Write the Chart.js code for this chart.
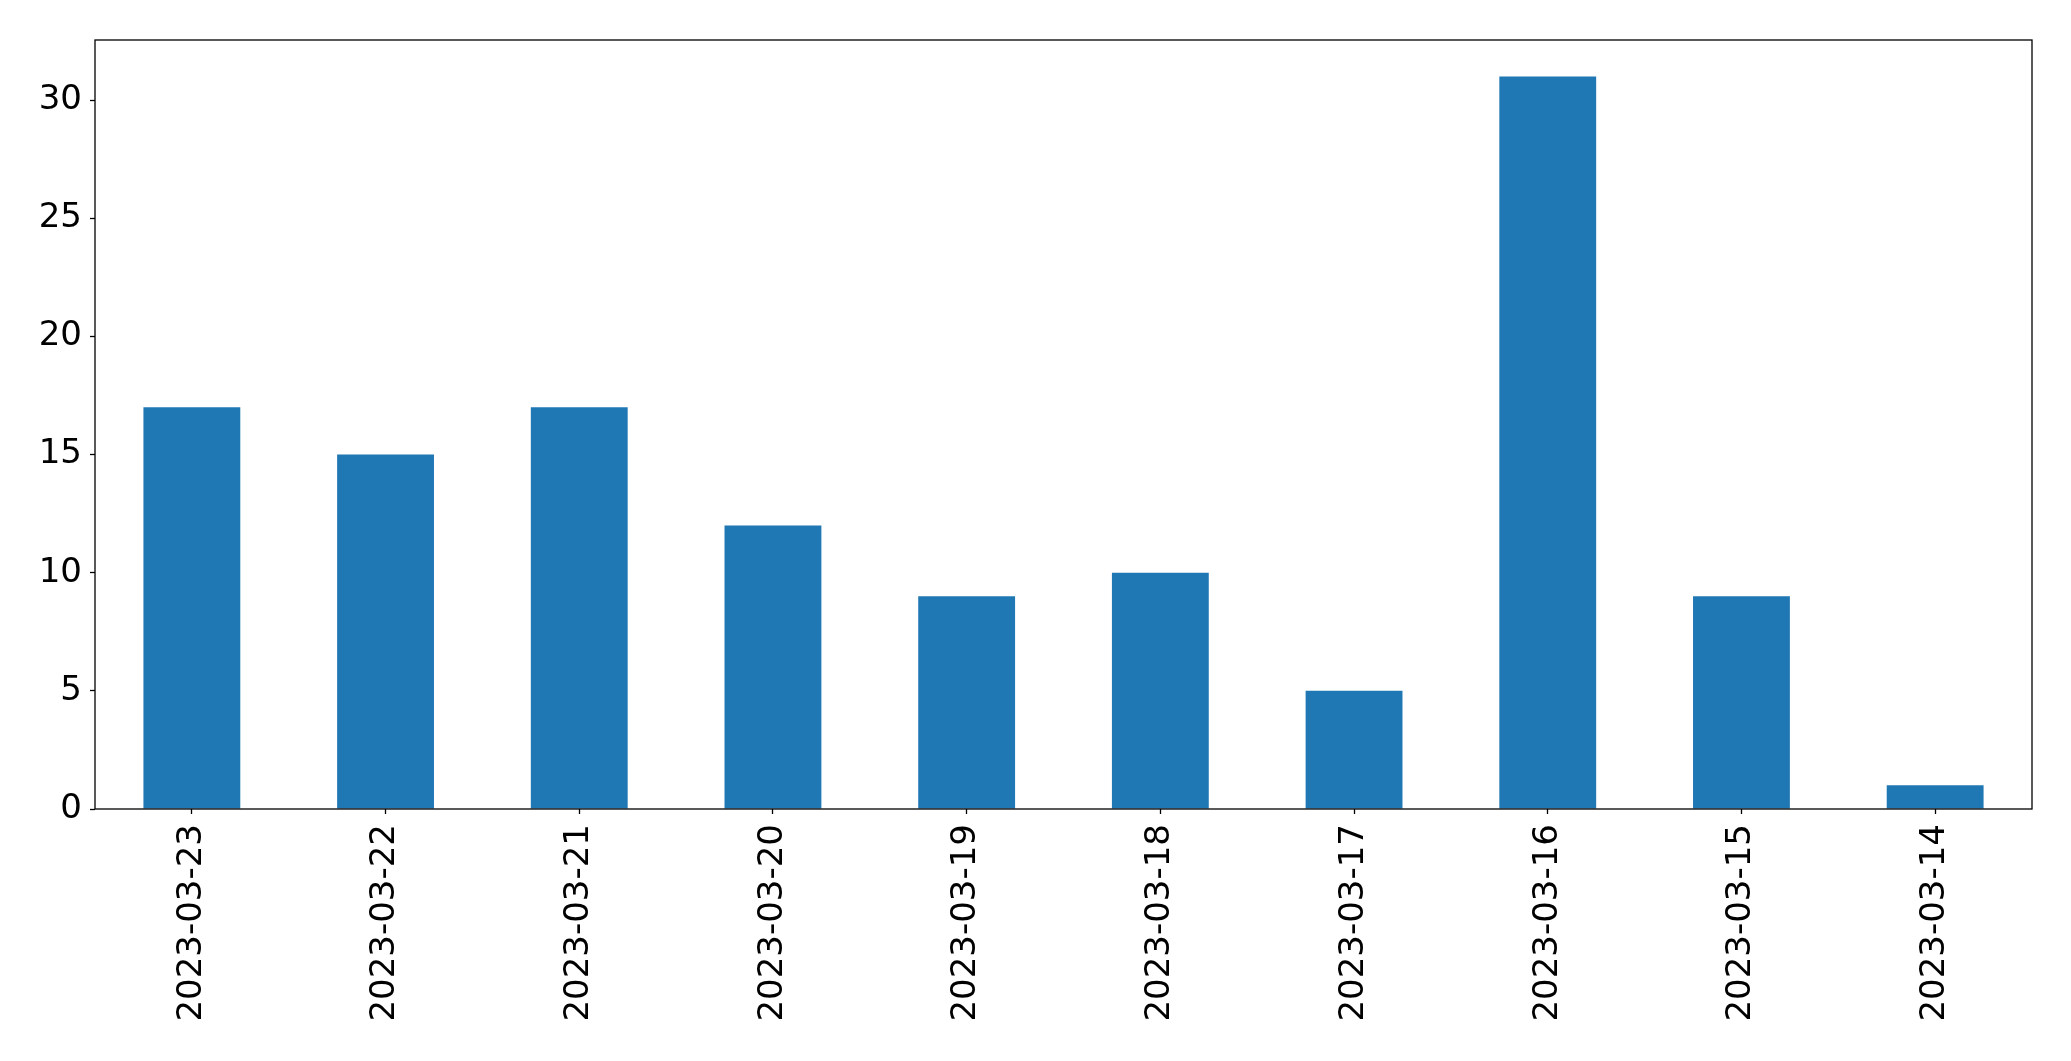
<!DOCTYPE html>
<html>
<head>
<meta charset="utf-8">
<script src="https://cdn.jsdelivr.net/npm/chart.js@4"></script>
<style>
html,body{margin:0;padding:0;background:#fff;}
#wrap{width:2071px;height:1061px;position:relative;}
</style>
</head>
<body>
<div id="wrap"><canvas id="c" width="2071" height="1061"></canvas></div>
<script>
const categories = ["2023-03-23","2023-03-22","2023-03-21","2023-03-20","2023-03-19","2023-03-18","2023-03-17","2023-03-16","2023-03-15","2023-03-14"];
const counts = [17, 15, 17, 12, 9, 10, 5, 31, 9, 1];
const yTicks = [0, 5, 10, 15, 20, 25, 30];

const frame = {
  id: 'frame',
  afterDraw(chart) {
    const {ctx, chartArea: a} = chart;
    ctx.save();
    ctx.strokeStyle = '#000';
    ctx.lineWidth = 1.3;
    ctx.strokeRect(a.left, a.top, a.right - a.left, a.bottom - a.top);
    ctx.restore();
  }
};

new Chart(document.getElementById('c'), {
  type: 'bar',
  data: {
    labels: categories,
    datasets: [{
      data: counts,
      backgroundColor: '#1f77b4',
      borderWidth: 0,
      categoryPercentage: 1.0,
      barPercentage: 0.5
    }]
  },
  options: {
    responsive: false,
    animation: false,
    layout: { padding: { left: 0, top: 40, right: 39, bottom: 0 } },
    plugins: { legend: { display: false }, tooltip: { enabled: false } },
    scales: {
      x: {
        grid: { display: true, offset: false, drawOnChartArea: false, tickLength: 5, tickColor: '#000', tickWidth: 1.3 },
        border: { display: false },
        ticks: {
          color: '#000', font: { family: 'DejaVu Sans', size: 34 },
          maxRotation: 90, minRotation: 90, padding: 10, autoSkip: false
        },
        afterFit(s) { s.height = 252; }
      },
      y: {
        min: 0, max: 32.55,
        grid: { display: true, drawOnChartArea: false, tickLength: 5, tickColor: '#000', tickWidth: 1.3 },
        border: { display: false },
        afterBuildTicks(s) { s.ticks = yTicks.map(v => ({ value: v })); },
        ticks: {
          color: '#000', font: { family: 'DejaVu Sans', size: 34 }, padding: 8
        },
        afterFit(s) { s.width = 95; }
      }
    }
  },
  plugins: [frame]
});
</script>
</body>
</html>
